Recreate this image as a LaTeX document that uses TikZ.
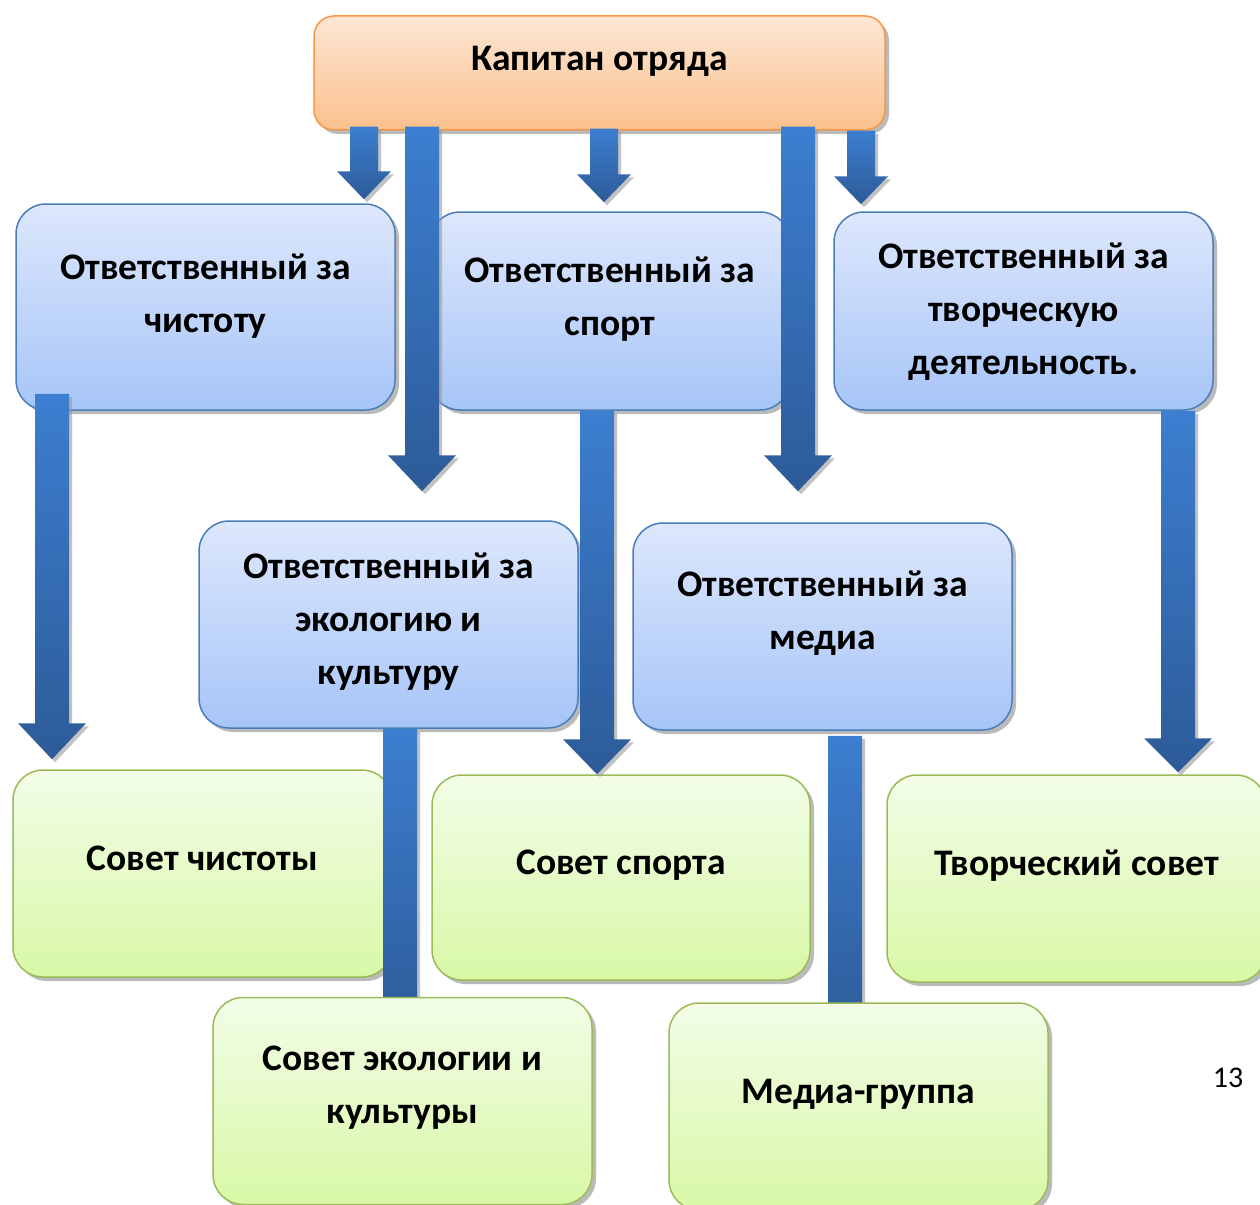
\documentclass[tikz,border=0pt]{standalone}
\usepackage{fontspec}
\setmainfont{Carlito}
\usetikzlibrary{calc,shadows}
\pgfdeclarelayer{front}
\pgfsetlayers{main,front}
\definecolor{capTop}{HTML}{FDE7D5}
\definecolor{capBot}{HTML}{FBC08D}
\definecolor{capLine}{HTML}{F79646}
\definecolor{blueTop}{HTML}{DDE7FC}
\definecolor{blueBot}{HTML}{A7C5F8}
\definecolor{blueLine}{HTML}{4A7EBB}
\definecolor{greenTop}{HTML}{F3FDE8}
\definecolor{greenBot}{HTML}{D8F8A6}
\definecolor{greenLine}{HTML}{9BBB59}
\definecolor{arrowTop}{HTML}{3C7ED0}
\definecolor{arrowBot}{HTML}{2D5B98}
\newcommand{\blockarrow}[8]{%
  \path[blockarrow] let \p1=(#2.south), \p2=(#3.north) in
    (#1pt-#6pt,\y1+#4pt) -- (#1pt+#6pt,\y1+#4pt) -- (#1pt+#6pt,\y2+#5pt+#8pt) -- (#1pt+#7pt,\y2+#5pt+#8pt)
    -- (#1pt,\y2+#5pt) -- (#1pt-#7pt,\y2+#5pt+#8pt) -- (#1pt-#6pt,\y2+#5pt+#8pt) -- cycle;}
\begin{document}
\begin{tikzpicture}[x=1pt,y=-1pt,
    box/.style={rounded corners=30pt, line width=1.5pt,
      drop shadow={shadow xshift=4pt, shadow yshift=-4pt, fill=black!45, opacity=0.6}},
    capbox/.style={box, rounded corners=20pt, draw=capLine, top color=capTop, bottom color=capBot,
      minimum width=571pt, minimum height=114pt},
    bluebox/.style={box, draw=blueLine, top color=blueTop, bottom color=blueBot,
      minimum width=379pt, minimum height=206pt},
    greenbox/.style={box, draw=greenLine, top color=greenTop, bottom color=greenBot,
      minimum width=379pt, minimum height=207pt},
    boxtext/.style={font=\fontsize{37.5}{53}\selectfont\bfseries, align=center, yshift=12pt},
    blockarrow/.style={top color=arrowTop, bottom color=arrowBot,
      drop shadow={shadow xshift=3pt, shadow yshift=-3pt, fill=black!40, opacity=0.6}}]
  \useasboundingbox (0,0) rectangle (1260,1204);
  \node[capbox, label={[boxtext]center:{Капитан отряда}}] (cap) at (599.5,73) {};
  \node[bluebox, label={[boxtext, yshift=-1pt]center:{Ответственный за\\чистоту}}] (b1) at (205.5,307) {};
  \node[bluebox, minimum width=360pt, minimum height=198pt,
    label={[boxtext]center:{Ответственный за\\спорт}}] (b2) at (610,311) {};
  \node[bluebox, minimum height=198pt,
    label={[boxtext, yshift=-13pt]center:{Ответственный за\\творческую\\деятельность.}}] (b3) at (1023.5,311) {};
  \node[bluebox, minimum height=207pt,
    label={[boxtext, yshift=-9pt]center:{Ответственный за\\экологию и\\культуру}}] (b4) at (388.5,624.5) {};
  \node[bluebox, minimum height=207pt,
    label={[boxtext, yshift=1pt]center:{Ответственный за\\медиа}}] (b5) at (822.5,626.5) {};
  \node[greenbox, label={[boxtext, yshift=3pt]center:{Совет чистоты}}] (g1) at (202.5,873.5) {};
  \node[greenbox, minimum width=378pt, minimum height=205pt,
    label={[boxtext]center:{Совет спорта}}] (g2) at (621,877.5) {};
  \node[greenbox, label={[boxtext, yshift=1pt]center:{Творческий совет}}] (g3) at (1076.5,878.5) {};
  \begin{pgfonlayer}{front}
    \node[greenbox, label={[boxtext, yshift=1pt]center:{Совет экологии и\\культуры}}] (g4) at (402.5,1101) {};
    \node[greenbox, label={[boxtext]center:{Медиа-группа}}] (g5) at (858.5,1106.5) {};
  \end{pgfonlayer}
  \blockarrow{364}{cap}{b1}{4}{4}{14}{27}{28}
  \blockarrow{604}{cap}{b2}{2}{9}{14}{27}{28}
  \blockarrow{861}{cap}{b3}{0}{7}{14}{27}{28}
  \blockarrow{422}{cap}{b4}{4}{29}{17}{34}{36}
  \blockarrow{798}{cap}{b5}{4}{31}{17}{34}{36}
  \blockarrow{52}{b1}{g1}{17}{10}{17}{34}{36}
  \blockarrow{597}{b2}{g2}{0}{0}{17}{34}{35}
  \blockarrow{1178}{b3}{g3}{0}{2}{17}{34}{34}
  \blockarrow{400}{b4}{g4}{0}{-40}{17}{34}{35}
  \blockarrow{845}{b5}{g5}{-5}{-40}{17}{34}{35}
  \node[font=\fontsize{30}{32}\selectfont] (page) at (1228,1078) {13};
\end{tikzpicture}
\end{document}
